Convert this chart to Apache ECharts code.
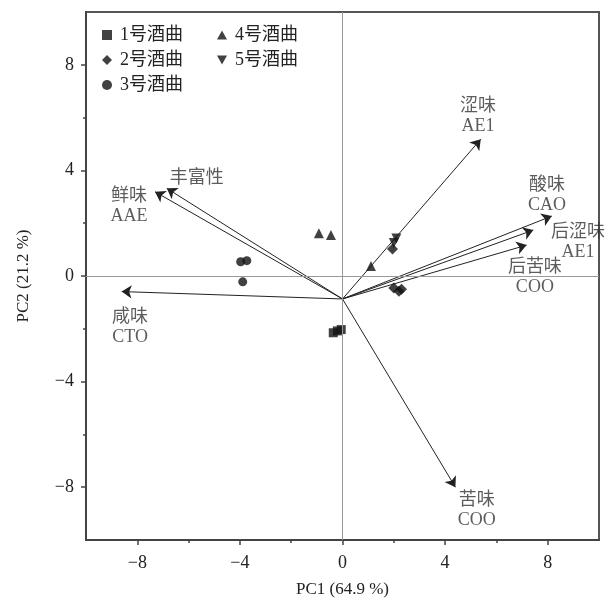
<!DOCTYPE html>
<html>
<head>
<meta charset="utf-8">
<script src="https://cdn.jsdelivr.net/npm/echarts@6/dist/echarts.min.js"></script>
<style>
  html, body { margin: 0; padding: 0; background: #fff; }
  #biplot { width: 609px; height: 598px; }
</style>
</head>
<body>
<div id="biplot"></div>
<script>
// sample scores (PC1, PC2)
var qu1 = [[-0.36, -2.15], [-0.2, -2.08], [-0.05, -2.03]];
var qu2 = [[1.95, 1.02], [2.0, -0.45], [2.2, -0.58], [2.3, -0.5]];
var qu3 = [[-3.97, 0.54], [-3.73, 0.58], [-3.89, -0.22]];
var qu4 = [[-0.92, 1.62], [-0.45, 1.55], [1.11, 0.38]];
var qu5 = [[2.1, 1.42], [2.0, 1.25]];

// loading vectors
var vecOrigin = [0, -0.87];
var vecEnds = [[5.39, 5.18], [8.16, 2.27], [7.44, 1.74], [7.18, 1.17], [4.4, -8.0], [-8.61, -0.59], [-7.31, 3.19], [-6.85, 3.32]];
var vecNames = ['涩味\nAE1', '酸味\nCAO', '后涩味\nAE1', '后苦味\nCOO', '苦味\nCOO', '咸味\nCTO', '鲜味\nAAE', '丰富性'];
var vecLabelAt = [[5.28, 6.06], [7.97, 3.07], [9.18, 1.29], [7.5, -0.04], [5.23, -8.86], [-8.28, -1.95], [-8.32, 2.65], [-5.68, 3.7]];

var groupNames = ['1号酒曲', '2号酒曲', '3号酒曲', '4号酒曲', '5号酒曲'];
var majorTicks = [-8, -4, 0, 4, 8];
var minorTicks = [-6, -2, 2, 6];

var FONT = '"Liberation Serif", "Noto Sans CJK SC", serif';
var DOWN_TRI = 'path://M0,0 L10,0 L5,9 Z';
var UP_TRI = 'path://M5,0 L10,9 L0,9 Z';

var minus = function (v) { return String(v).replace('-', '\u2212'); };

var baseAxis = function (extra) {
    var a = {
        type: 'value', min: -10, max: 10, interval: 2,
        axisLine: { show: true, onZero: false, lineStyle: { color: '#444', width: 2 } },
        axisTick: { show: true, customValues: majorTicks, length: 5, lineStyle: { color: '#444', width: 1.5 } },
        axisLabel: { customValues: majorTicks, formatter: minus, color: '#222', fontSize: 18, fontFamily: FONT, margin: 12 },
        splitLine: { show: false },
        nameTextStyle: { color: '#222', fontSize: 17, fontFamily: FONT }
    };
    for (var k in extra) a[k] = extra[k];
    return a;
};
var minorAxis = function (pos) {
    return {
        type: 'value', min: -10, max: 10, interval: 2, position: pos,
        axisLine: { show: false, onZero: false },
        axisTick: { show: true, customValues: minorTicks, length: 3, lineStyle: { color: '#444', width: 1.5 } },
        axisLabel: { show: false },
        splitLine: { show: false }
    };
};

var myChart = echarts.init(document.getElementById('biplot'));
var symOf = ['rect', 'diamond', 'circle', UP_TRI, DOWN_TRI];
var sizeOf = [9, 11, 9, 10, 10];
var groups = [qu1, qu2, qu3, qu4, qu5];

var series = groups.map(function (d, i) {
    return {
        name: groupNames[i], type: 'scatter', data: d,
        symbol: symOf[i], symbolSize: sizeOf[i],
        itemStyle: { color: '#111' }, z: 4
    };
});

series.push({
    name: 'axes0', type: 'line', data: [], xAxisIndex: 0, yAxisIndex: 0,
    markLine: {
        silent: true, symbol: 'none', label: { show: false },
        lineStyle: { color: '#999', width: 1, type: 'solid' },
        data: [{ xAxis: 0 }, { yAxis: 0 }]
    }
});

series.push({
    name: 'vectors', type: 'lines', coordinateSystem: 'cartesian2d',
    symbol: ['none', 'arrow'], symbolSize: 10,
    lineStyle: { color: '#222', width: 1, opacity: 1 },
    data: vecEnds.map(function (e) { return { coords: [vecOrigin, e] }; }),
    z: 3
});

series.push({
    name: 'vecLabels', type: 'scatter', symbolSize: 0,
    data: vecLabelAt.map(function (p, i) { return { value: p, name: vecNames[i] }; }),
    label: {
        show: true, position: 'inside', formatter: '{b}',
        color: '#333', fontSize: 18, lineHeight: 20, fontFamily: FONT, align: 'center'
    },
    z: 5
});

var legendBase = function (left, names) {
    return {
        orient: 'vertical', left: left, top: 21,
        itemGap: 7, itemWidth: 10, itemHeight: 10,
        data: names.map(function (n) { return { name: n, icon: symOf[groupNames.indexOf(n)] }; }),
        textStyle: { color: '#222', fontSize: 18, fontFamily: FONT, padding: [0, 0, 0, 3] },
        itemStyle: { color: '#111' }
    };
};

option = {
    backgroundColor: '#fff',
    animation: false,
    grid: {
        left: 86, right: 10, top: 12, bottom: 58, outerBoundsMode: 'none',
        show: true, borderColor: '#555', borderWidth: 2
    },
    legend: [
        legendBase(97, groupNames.slice(0, 3)),
        legendBase(212, groupNames.slice(3))
    ],
    xAxis: [
        baseAxis({ name: 'PC1 (64.9 %)', nameLocation: 'middle', nameGap: 41, position: 'bottom' }),
        minorAxis('bottom')
    ],
    yAxis: [
        baseAxis({ name: 'PC2 (21.2 %)', nameLocation: 'middle', nameGap: 54, position: 'left' }),
        minorAxis('left')
    ],
    series: series
};
option.xAxis[0].axisLabel.margin = 14;
myChart.setOption(option);
</script>
</body>
</html>
